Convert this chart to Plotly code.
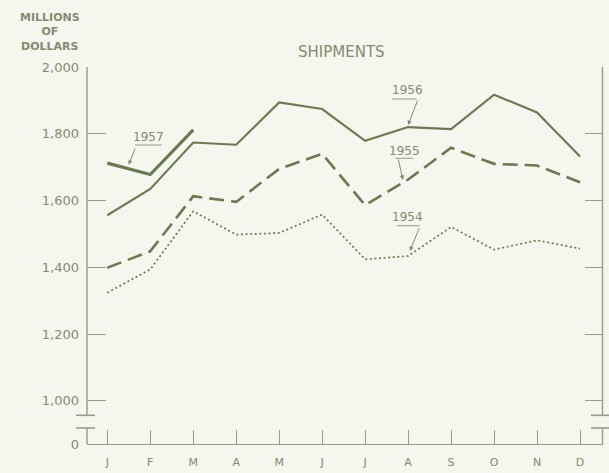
import plotly.graph_objects as go

# ---------------- data ----------------
months = ["J", "F", "M", "A", "M", "J", "J", "A", "S", "O", "N", "D"]
month_idx = list(range(len(months)))

ship_1957 = [1712, 1678, 1812]
ship_1956 = [1556, 1635, 1774, 1767, 1894, 1874, 1779, 1820, 1814, 1917, 1864, 1732]
ship_1955 = [1399, 1448, 1613, 1596, 1695, 1740, 1586, 1663, 1758, 1710, 1705, 1655]
ship_1954 = [1324, 1394, 1568, 1498, 1503, 1558, 1424, 1434, 1521, 1453, 1481, 1456]

axis_base = 871          # broken-axis bottom, labelled "0"
y_tick_vals = [axis_base, 1000, 1200, 1400, 1600, 1800, 2000]
y_tick_text = ["0", "1,000", "1,200", "1,400", "1,600", "1,800", "2,000"]

# ---------------- style ----------------
W, H = 609, 473
ML, MR, MT, MB = 87, 6, 67, 29
PW, PH = W - ML - MR, H - MT - MB
BG = "#f5f6ee"
LINE = "#6b7a50"
AXIS = "#9a9d86"
TEXT = "#868a70"
FONT = "DejaVu Sans"

X0, X1 = -0.472, 11.535
Y0, Y1 = axis_base, 2000


def px_x(px):
    return (px - ML) / PW


def px_y(py):
    return (MT + PH - py) / PH


fig = go.Figure()

fig.add_trace(go.Scatter(x=month_idx, y=ship_1954, mode="lines", name="1954",
                         line=dict(color=LINE, width=1.7, dash="2px,2.6px")))
fig.add_trace(go.Scatter(x=month_idx, y=ship_1955, mode="lines", name="1955",
                         line=dict(color=LINE, width=2.6, dash="15px,7px")))
fig.add_trace(go.Scatter(x=month_idx, y=ship_1956, mode="lines", name="1956",
                         line=dict(color=LINE, width=2.1)))
fig.add_trace(go.Scatter(x=month_idx[:len(ship_1957)], y=ship_1957, mode="lines", name="1957",
                         line=dict(color=LINE, width=3.2)))
# invisible trace to hold the right-hand axis
fig.add_trace(go.Scatter(x=[month_idx[0]], y=[axis_base], yaxis="y2", mode="markers",
                         marker=dict(opacity=0), hoverinfo="skip", showlegend=False))

shapes = []
brk_hi, brk_lo = 957, 919
for xp in (0, 0.999):
    # axis line with a break
    shapes.append(dict(type="line", xref="paper", yref="paper", x0=xp, x1=xp,
                       y0=(brk_hi - Y0) / (Y1 - Y0), y1=1,
                       line=dict(color=AXIS, width=1.4)))
    shapes.append(dict(type="line", xref="paper", yref="paper", x0=xp, x1=xp,
                       y0=0, y1=(brk_lo - Y0) / (Y1 - Y0),
                       line=dict(color=AXIS, width=1.4)))
brk_x = [(px_x(76), px_x(95)), (px_x(591), px_x(609))]
for (a, b) in brk_x:
    for v in (brk_hi, brk_lo):
        yy = (v - Y0) / (Y1 - Y0)
        shapes.append(dict(type="line", xref="paper", yref="paper", x0=a, x1=b, y0=yy, y1=yy,
                           line=dict(color=AXIS, width=1.6)))

# label underlines (pixel positions converted to paper)
underlines = [(135, 161.7, 145), (391.7, 416.7, 99), (395, 413.3, 158.3), (396.7, 420, 225.7)]
for (a, b, yy) in underlines:
    shapes.append(dict(type="line", xref="paper", yref="paper", x0=px_x(a), x1=px_x(b),
                       y0=px_y(yy), y1=px_y(yy), line=dict(color=AXIS, width=1)))

annotations = []
# year labels
year_labels = [("1957", 148.3, 136.7), ("1956", 407.7, 90), ("1955", 404.3, 151), ("1954", 407.7, 216.7)]
for (t, xx, yy) in year_labels:
    annotations.append(dict(text=t, xref="paper", yref="paper", x=px_x(xx), y=px_y(yy),
                            showarrow=False, xanchor="center", yanchor="middle",
                            font=dict(family=FONT, size=12, color=TEXT)))
# leader arrows (tips on the lines, tails at underline ends)
arrows = [
    (0.5, (ship_1957[0] + ship_1957[1]) / 2 + 12, 7, -18),
    (7.0, ship_1956[7] + 6, 10, -26),
    (6.88, ship_1955[6] + 0.88 * (ship_1955[7] - ship_1955[6]) + 8, -5, -22),
    (7.04, ship_1954[7] + 15, 10, -24),
]
for (xx, yy, ax, ay) in arrows:
    annotations.append(dict(text="", x=xx, y=yy, xref="x", yref="y", ax=ax, ay=ay,
                            showarrow=True, arrowhead=2, arrowsize=0.9, arrowwidth=1,
                            arrowcolor=TEXT, standoff=0, startstandoff=0))

annotations.append(dict(text="SHIPMENTS", xref="paper", yref="paper", x=px_x(341), y=px_y(52),
                        showarrow=False, xanchor="center", yanchor="middle",
                        font=dict(family=FONT, size=15, color=TEXT)))
annotations.append(dict(text="<b>MILLIONS<br>OF<br>DOLLARS</b>", xref="paper", yref="paper",
                        x=px_x(50), y=px_y(32), showarrow=False, xanchor="center",
                        yanchor="middle", align="center",
                        font=dict(family=FONT, size=11, color=TEXT)))

fig.update_layout(
    width=W, height=H,
    margin=dict(l=ML, r=MR, t=MT, b=MB, pad=0),
    paper_bgcolor=BG, plot_bgcolor=BG,
    showlegend=False,
    shapes=shapes, annotations=annotations,
    xaxis=dict(range=[X0, X1], tickvals=month_idx, ticktext=months,
               ticks="inside", ticklen=14, tickcolor=AXIS, tickwidth=1.3,
               showline=True, linecolor=AXIS, linewidth=1.4, automargin=False,
               showgrid=False, zeroline=False, ticklabelstandoff=8,
               tickfont=dict(family=FONT, size=11, color=TEXT), fixedrange=True),
    yaxis=dict(range=[Y0, Y1], tickvals=y_tick_vals, ticktext=y_tick_text,
               ticks="inside", ticklen=19, tickcolor=AXIS, tickwidth=1.3, automargin=False,
               showline=False, showgrid=False, zeroline=False, ticklabelstandoff=7,
               tickfont=dict(family=FONT, size=13, color=TEXT)),
    yaxis2=dict(range=[Y0, Y1], overlaying="y", side="right", tickvals=y_tick_vals[1:],
                ticks="inside", ticklen=18, tickcolor=AXIS, tickwidth=1.3, automargin=False,
                showticklabels=False, showline=False, showgrid=False, zeroline=False),
)

fig.write_html("out.html", config={"displayModeBar": False},
               post_script="document.body.style.margin='0';")
